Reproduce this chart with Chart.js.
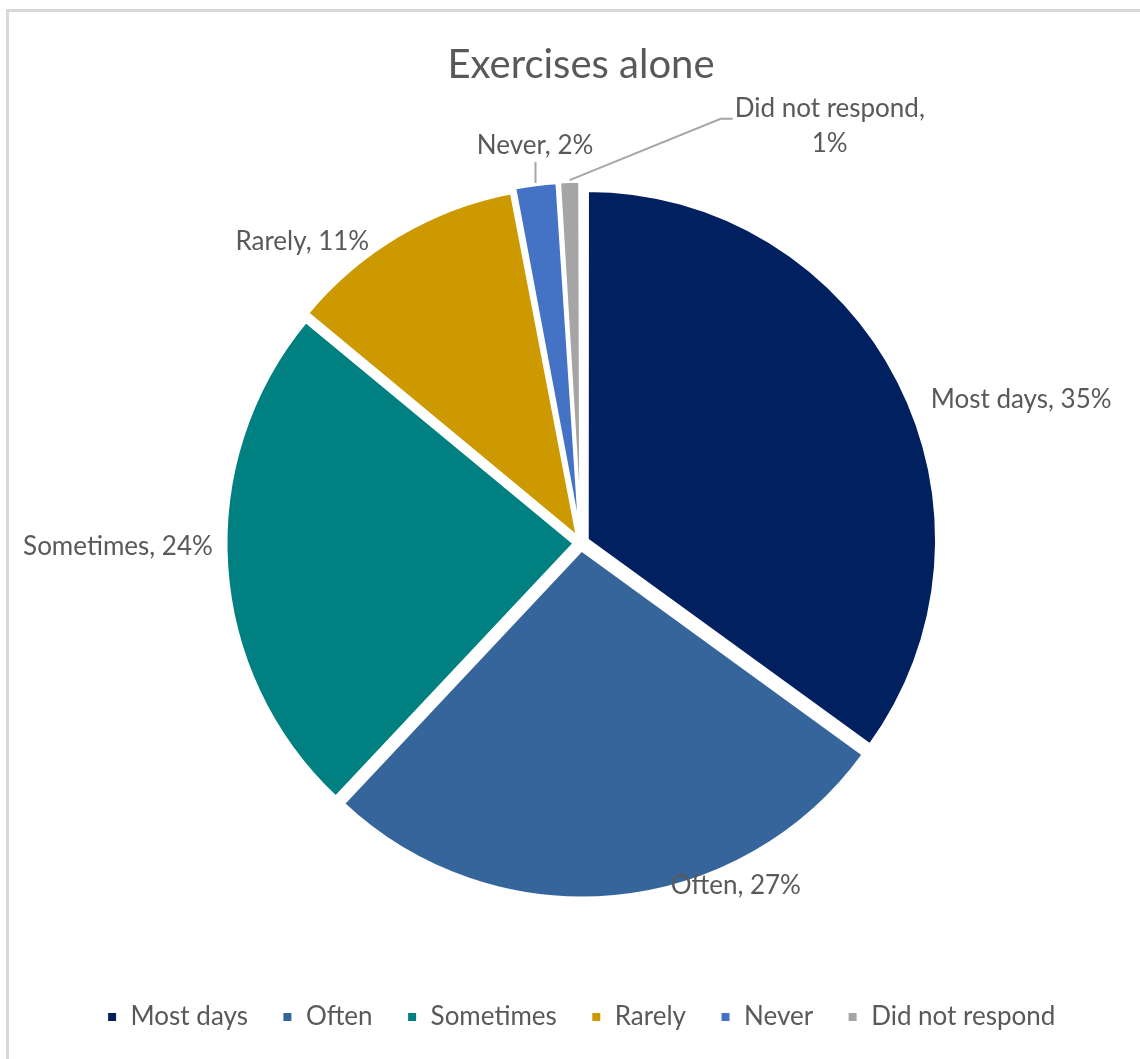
<!DOCTYPE html>
<html>
<head>
<meta charset="utf-8">
<script src="https://cdn.jsdelivr.net/npm/chart.js@4"></script>
<style>
    html, body { margin: 0; padding: 0; background: #fff; }
    body { width: 1140px; height: 1059px; position: relative; overflow: hidden; }
    #frame {
        position: absolute; left: 6px; top: 9px; width: 1200px; height: 1200px;
        border-left: 3px solid #d9d9d9; border-top: 3px solid #d9d9d9;
        pointer-events: none;
    }
    canvas { position: absolute; left: 0; top: 0; }
</style>
</head>
<body>
<canvas id="pieChart" width="1140" height="1059"></canvas>
<div id="frame"></div>
<script>
// chart data
const categories = ['Most days', 'Often', 'Sometimes', 'Rarely', 'Never', 'Did not respond'];
const shares = [35, 27, 24, 11, 2, 1];
const sliceColors = ['#002060', '#35659a', '#008080', '#cc9900', '#4472c4', '#a5a5a5'];

// where each data label sits: angle in degrees clockwise from 12 o'clock, distance as a factor of the radius
const labelAngles = [71.9, 155.7, 269.5, 317.2, 353.4, 30.8];
const labelDistances = [1.323, 1.075, 1.323, 1.172, 1.142, 1.388];
const FONT = 'Lato, "Open Sans", sans-serif';
const TEXT_COLOR = '#595959';

// draws "Category, xx%" labels plus the leader lines for the two thin slices
const pieLabels = {
    id: 'pieLabels',
    afterDatasetsDraw(chart) {
        const ctx = chart.ctx;
        const meta = chart.getDatasetMeta(0);
        ctx.save();
        ctx.font = '26px ' + FONT;
        ctx.fillStyle = TEXT_COLOR;
        ctx.textAlign = 'center';
        ctx.textBaseline = 'middle';
        meta.data.forEach((arc, i) => {
            const p = arc.getProps(['x', 'y', 'outerRadius', 'startAngle', 'endAngle'], true);
            const a = (labelAngles[i] - 90) * Math.PI / 180;
            const lx = p.x + Math.cos(a) * 350 * labelDistances[i];
            const ly = p.y + Math.sin(a) * 350 * labelDistances[i];
            const text = categories[i] + ', ' + shares[i] + '%';
            const mid = (p.startAngle + p.endAngle) / 2;
            const ax = p.x + Math.cos(mid) * (p.outerRadius + 15);
            const ay = p.y + Math.sin(mid) * (p.outerRadius + 15);

            if (i === 5) {
                // wrapped label with an elbow leader line
                const line1 = categories[i] + ',';
                const line2 = shares[i] + '%';
                const w = ctx.measureText(line1).width;
                const left = lx - w / 2;
                const y1 = ly - 17;
                ctx.fillText(line1, lx, y1);
                ctx.fillText(line2, lx, ly + 18);
                ctx.strokeStyle = '#a6a6a6';
                ctx.lineWidth = 2;
                ctx.beginPath();
                ctx.moveTo(ax, ay);
                ctx.lineTo(left - 14, y1 + 10);
                ctx.lineTo(left - 2, y1 + 10);
                ctx.stroke();
            } else {
                ctx.fillText(text, lx, ly);
                if (i === 4) {
                    ctx.strokeStyle = '#a6a6a6';
                    ctx.lineWidth = 2;
                    ctx.beginPath();
                    ctx.moveTo(ax, ay);
                    ctx.lineTo(ax, ly + 16);
                    ctx.stroke();
                }
            }
        });
        ctx.restore();
    }
};

const ctxPie = document.getElementById('pieChart').getContext('2d');
const pieChart = new Chart(ctxPie, {
    type: 'pie',
    data: {
        labels: categories,
        datasets: [{
            label: 'Exercises alone',
            data: shares,
            backgroundColor: sliceColors,
            borderColor: '#ffffff',
            borderWidth: 3,
            offset: 28
        }]
    },
    options: {
        responsive: false,
        animation: false,
        radius: 348,
        layout: {
            padding: { left: 22, right: 0, top: 0, bottom: 19 }
        },
        plugins: {
            title: {
                display: true,
                text: 'Exercises alone',
                color: TEXT_COLOR,
                font: { family: FONT, size: 40, weight: 'normal' },
                padding: { top: 41, bottom: 27 }
            },
            legend: {
                position: 'bottom',
                labels: {
                    color: TEXT_COLOR,
                    font: { family: FONT, size: 26 },
                    boxWidth: 11,
                    boxHeight: 11,
                    padding: 34
                }
            },
            tooltip: { enabled: false }
        }
    },
    plugins: [pieLabels]
});
</script>
</body>
</html>
